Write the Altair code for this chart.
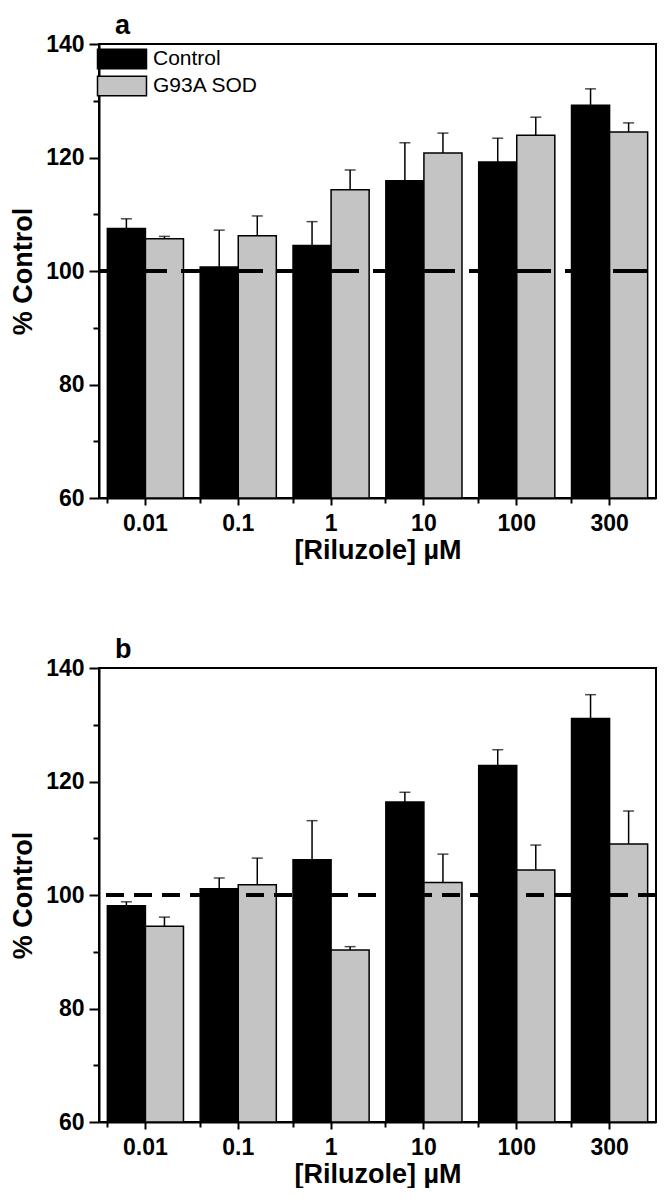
import altair as alt
import pandas as pd

categories = ["0.01", "0.1", "1", "10", "100", "300"]
groups = ["Control", "G93A SOD"]

# Panel a
a_control = [107.5, 100.7, 104.5, 115.9, 119.2, 129.2]
a_control_err = [1.7, 6.5, 4.2, 6.7, 4.2, 2.9]
a_g93a = [105.7, 106.2, 114.3, 120.8, 123.9, 124.5]
a_g93a_err = [0.4, 3.5, 3.5, 3.5, 3.2, 1.6]

# Panel b
b_control = [98.1, 101.1, 106.2, 116.4, 122.8, 131.1]
b_control_err = [0.7, 1.9, 6.9, 1.7, 2.8, 4.2]
b_g93a = [94.5, 101.8, 90.3, 102.2, 104.4, 109.0]
b_g93a_err = [1.6, 4.7, 0.6, 5.0, 4.4, 5.8]

FONT = "Liberation Sans"


def make_df(ctrl, ctrl_err, g, g_err):
    rows = []
    for i, c in enumerate(categories):
        rows.append({"conc": c, "group": groups[0], "value": ctrl[i], "upper": ctrl[i] + ctrl_err[i]})
        rows.append({"conc": c, "group": groups[1], "value": g[i], "upper": g[i] + g_err[i]})
    return pd.DataFrame(rows)


def panel(df, letter, h, dash, dash_offset):
    xscale = alt.Scale(domain=categories, paddingInner=0.18, paddingOuter=0.09)
    yscale = alt.Scale(domain=[60, 140], nice=False, zero=False)
    xoff = alt.XOffset("group:N", scale=alt.Scale(domain=groups, paddingInner=0, paddingOuter=0))

    main_x_axis = alt.Axis(
        title="[Riluzole] µM", orient="bottom", labelAngle=0, tickSize=7, tickWidth=2,
        tickColor="black", domainColor="black", domainWidth=2, labelFont=FONT,
        labelFontSize=23, labelFontWeight="bold", labelColor="black", labelPadding=7,
        titleFont=FONT, titleFontSize=27, titleFontWeight="bold", titleColor="black",
        titlePadding=2,
    )
    minor_x_axis = alt.Axis(
        title=None, orient="bottom", labels=False, domain=False, bandPosition=0,
        tickSize=5, tickWidth=2, tickColor="black",
    )
    y_axis = alt.Axis(
        title="% Control", values=list(range(60, 141, 10)),
        labelExpr="datum.value % 20 === 0 ? datum.label : ''",
        tickSize={"condition": {"test": "datum.value % 20 === 0", "value": 10}, "value": 6},
        tickWidth=2, tickColor="black", domainColor="black", domainWidth=2,
        labelFont=FONT, labelFontSize=23, labelFontWeight="bold", labelColor="black",
        labelPadding=5, titleFont=FONT, titleFontSize=27, titleFontWeight="bold",
        titleColor="black", titlePadding=8, grid=False,
    )
    legend = alt.Legend(
        title=None, orient="none", legendX=9, legendY=1, padding=1,
        symbolType="M-2,-0.8H2V0.8H-2Z", symbolSize=600,
        symbolStrokeColor="black", symbolStrokeWidth=1.5,
        labelFont=FONT, labelFontSize=21, labelColor="black", labelOffset=18,
        rowPadding=1,
    )
    color = alt.Color(
        "group:N",
        scale=alt.Scale(domain=groups, range=["#000000", "#c4c4c4"]),
        legend=legend,
    )

    base = alt.Chart(df)
    bars = base.mark_bar(stroke="black", strokeWidth=1.5).encode(
        x=alt.X("conc:N", scale=xscale, sort=categories, axis=main_x_axis),
        xOffset=xoff,
        y=alt.Y("value:Q", scale=yscale, axis=y_axis),
        y2=alt.datum(60),
        color=color,
    )
    err = base.mark_rule(color="black", strokeWidth=1.5).encode(
        x=alt.X("conc:N", scale=xscale, sort=categories, axis=None),
        xOffset=xoff,
        y=alt.Y("value:Q", scale=yscale),
        y2="upper:Q",
    )
    cap = base.mark_tick(orient="horizontal", size=11, thickness=1.5, color="black").encode(
        x=alt.X("conc:N", scale=xscale, sort=categories, axis=minor_x_axis),
        xOffset=xoff,
        y=alt.Y("upper:Q", scale=yscale),
    )
    ref = base.mark_rule(color="black", strokeWidth=3.5, strokeDash=dash,
                         strokeDashOffset=dash_offset).encode(
        y=alt.datum(100),
    )
    tag = alt.Chart(pd.DataFrame({"letter": [letter]})).mark_text(
        align="left", baseline="alphabetic", font=FONT, fontSize=27,
        fontWeight="bold", color="black",
    ).encode(text="letter:N", x=alt.value(16), y=alt.value(-10))
    return alt.layer(bars, err, cap, ref, tag).resolve_axis(x="independent").properties(
        width=557, height=h,
    )


df_a = make_df(a_control, a_control_err, a_g93a, a_g93a_err)
df_b = make_df(b_control, b_control_err, b_g93a, b_g93a_err)

chart = alt.vconcat(
    panel(df_a, "a", 454, [34, 14], 39),
    panel(df_b, "b", 454, [18, 10], 0),
    spacing=71,
).properties(
    padding={"left": 0, "top": 3, "right": 0, "bottom": 0},
    background="white",
).configure_view(stroke="black", strokeWidth=2)

chart.save("out.html", embed_options={"renderer": "svg", "actions": False})
